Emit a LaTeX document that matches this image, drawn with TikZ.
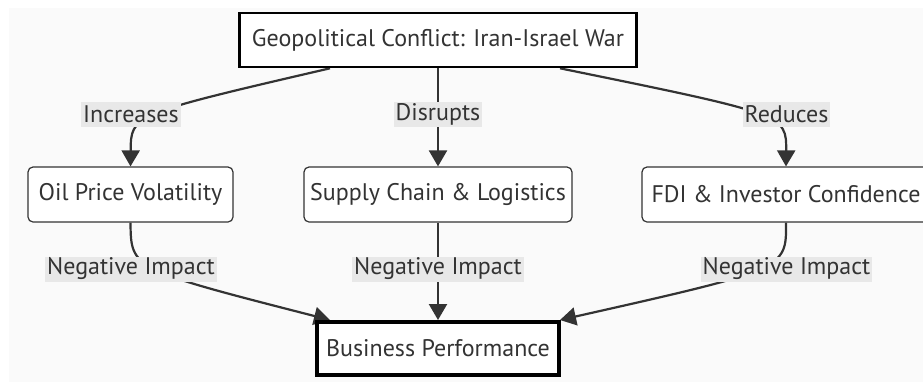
\documentclass[tikz,border=0pt]{standalone}
\usepackage{fontspec}
\setmainfont{PT Sans}
\usetikzlibrary{arrows.meta}
\usetikzlibrary{backgrounds}

\definecolor{ink}{HTML}{333333}
\definecolor{lblbg}{HTML}{E8E8E8}
\definecolor{canvas}{HTML}{FAFAFA}

\begin{document}
\begin{tikzpicture}[x=0.5pt, y=-0.5pt,
    every node/.style={text=ink, font=\fontsize{12}{14}\selectfont},
    box/.style={draw=ink, rounded corners=2.5pt, fill=white,
        line width=0.6pt, minimum height=27.5pt, inner sep=0pt},
    bigbox/.style={box, draw=black, rounded corners=0pt},
    edgelabel/.style={fill=lblbg, inner xsep=1pt, inner ysep=0pt,
        minimum height=12.5pt},
    link/.style={draw=ink, line width=1.1pt,
        -{Triangle[length=8pt, width=9pt]}}]

    \useasboundingbox (0,0) rectangle (923,382);

    % boxes
    \node[bigbox, line width=1.3pt, minimum width=198.5pt, minimum height=27pt
        ] (war) at (438,40) {Geopolitical Conflict: Iran-Israel War};

    \node[box, minimum width=102.5pt] (oil) at (130.5,194.5) {Oil Price Volatility};

    \node[box, minimum width=134pt] (supply) at (438,194.5) {Supply Chain \& Logistics};

    \node[box, minimum width=144pt] (fdi) at (786,194.5) {FDI \& Investor Confidence};

    \node[bigbox, line width=2pt, minimum width=121pt, minimum height=26.5pt
        ] (perf) at (438,348.5) {Business Performance};

    % labels on the links
    \node[edgelabel] (inc) at (131,114.5) {Increases};
    \node[edgelabel] (dis) at (438,114.5) {Disrupts};
    \node[edgelabel] (red) at (786.5,114.5) {Reduces};

    \node[edgelabel] (negoil) at (131,269) {Negative Impact};
    \node[edgelabel] (negsup) at (438,269) {Negative Impact};
    \node[edgelabel] (negfdi) at (786.5,269) {Negative Impact};

    \begin{scope}[on background layer]
        \fill[canvas] (9,8) rectangle (923,382);

        \draw[link] ([xshift=-54pt]war.south) .. controls (inc.center) .. (oil.north);
        \draw[link] (war.south) -- (supply.north);
        \draw[link] ([xshift=61pt]war.south) .. controls (red.center) .. (fdi.north);

        \draw[link] (oil.south) .. controls (negoil.center) .. ([xshift=-54pt]perf.north);
        \draw[link] (supply.south) -- (perf.north);
        \draw[link] (fdi.south) .. controls (negfdi.center) .. ([xshift=61pt]perf.north);
    \end{scope}

\end{tikzpicture}
\end{document}
